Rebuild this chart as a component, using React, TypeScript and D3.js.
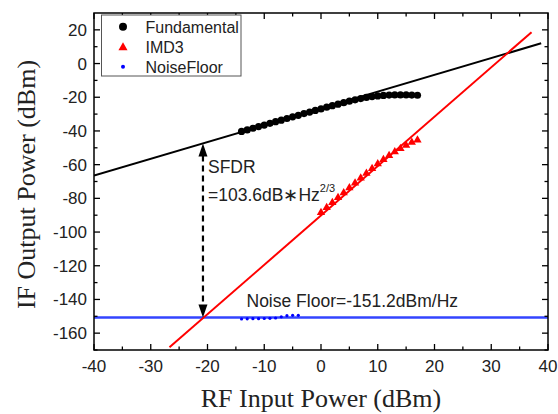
import React from "react";
import * as d3 from "d3";

const W = 558;
const H = 414;
const M = { left: 94, right: 548, top: 13, bottom: 350 };

const xTicksMajor = [-40, -30, -20, -10, 0, 10, 20, 30, 40];
const xTicksMinor = [-35, -25, -15, -5, 5, 15, 25, 35];
const yTicksMajor = [20, 0, -20, -40, -60, -80, -100, -120, -140, -160];
const yTicksMinor = [10, -10, -30, -50, -70, -90, -110, -130, -150, -170];

const fundX = [-14, -13, -12, -11, -10, -9, -8, -7, -6, -5, -4, -3, -2, -1, 0, 1, 2, 3, 4, 5, 6, 7, 8, 9, 10, 11, 12, 13, 14, 15, 16, 17];
const fundY = [-40.3, -39.4, -38.4, -37.4, -36.5, -35.5, -34.5, -33.6, -32.6, -31.6, -30.7, -29.7, -28.8, -27.8, -26.9, -25.9, -25.0, -24.1, -23.2, -22.3, -21.5, -20.8, -20.1, -19.6, -19.2, -18.9, -18.7, -18.6, -18.6, -18.6, -18.7, -18.8];

const imdX = [0, 1, 2, 3, 4, 5, 6, 7, 8, 9, 10, 11, 12, 13, 14, 15, 16, 17];
const imdY = [-88.5, -85.5, -82.5, -79.6, -76.7, -73.8, -70.9, -68.0, -65.1, -62.3, -59.5, -57.0, -54.6, -52.4, -50.4, -48.5, -46.8, -45.4];

const noiseX = [-14, -13, -12, -11, -10, -9, -8, -7, -6, -5, -4];
const noiseY = [-151.6, -151.5, -151.4, -151.4, -151.3, -151.2, -151.0, -150.3, -149.6, -149.4, -149.4];

const fundFitX = [-40, 38.8];
const fundFitY = [-66.5, 12.0];
const imdFitX = [-26.7, 37.1];
const imdFitY = [-168.4, 18.6];
const noiseFloorLevel = -150.7;
const sfdrX = -20.8;
const sfdrTop = -47.5;

const legendLabels = ["Fundamental", "IMD3", "NoiseFloor"];

export default function App() {
  const x = d3.scaleLinear().domain([-40, 40]).range([M.left, M.right]);
  const y = d3.scaleLinear().domain([-170, 30]).range([M.bottom, M.top]);
  const line = d3
    .line<[number, number]>()
    .x((d) => x(d[0]))
    .y((d) => y(d[1]));
  const tri = d3.symbol().type(d3.symbolTriangle).size(30)() as string;
  const triLeg = d3.symbol().type(d3.symbolTriangle).size(36)() as string;
  const sans = "'Liberation Sans', Arial, sans-serif";
  const serif = "'Liberation Serif', 'Times New Roman', serif";

  const fundFit: [number, number][] = fundFitX.map((v, i) => [v, fundFitY[i]]);
  const imdFit: [number, number][] = imdFitX.map((v, i) => [v, imdFitY[i]]);

  const ay1 = y(sfdrTop);
  const ay2 = y(noiseFloorLevel);
  const ax = x(sfdrX);

  return (
    <svg
      width={W}
      height={H}
      style={{ position: "absolute", left: 0, top: 0, background: "#fff" }}
    >
      <defs>
        <clipPath id="plot">
          <rect x={M.left} y={M.top} width={M.right - M.left} height={M.bottom - M.top} />
        </clipPath>
      </defs>
      <rect width={W} height={H} fill="#fff" />

      <g clipPath="url(#plot)">
        {/* noise floor line */}
        <line
          x1={M.left}
          x2={M.right}
          y1={y(noiseFloorLevel)}
          y2={y(noiseFloorLevel)}
          stroke="#3344ff"
          strokeWidth={2.6}
        />
        <path d={line(fundFit) || ""} stroke="#000" strokeWidth={2} fill="none" />
        <path d={line(imdFit) || ""} stroke="#ff0000" strokeWidth={2} fill="none" />

        {fundX.map((v, i) => (
          <circle key={"f" + i} cx={x(v)} cy={y(fundY[i])} r={3.6} fill="#000" />
        ))}
        {imdX.map((v, i) => (
          <path
            key={"m" + i}
            d={tri}
            transform={`translate(${x(v)},${y(imdY[i])})`}
            fill="#ff0000"
          />
        ))}
        {noiseX.map((v, i) => (
          <circle key={"n" + i} cx={x(v)} cy={y(noiseY[i])} r={1.6} fill="#0000ff" />
        ))}
      </g>

      {/* SFDR arrow */}
      <line
        x1={ax}
        x2={ax}
        y1={ay1 + 12}
        y2={ay2 - 12}
        stroke="#000"
        strokeWidth={2.2}
        strokeDasharray="6,4"
      />
      <path d={`M${ax},${ay1} L${ax - 4.5},${ay1 + 13} L${ax + 4.5},${ay1 + 13} Z`} fill="#000" />
      <path d={`M${ax},${ay2} L${ax - 4.5},${ay2 - 13} L${ax + 4.5},${ay2 - 13} Z`} fill="#000" />

      <text x={208} y={172.5} fontFamily={sans} fontSize={17.5} fill="#222">
        SFDR
      </text>
      <text x={208} y={200.5} fontFamily={sans} fontSize={17.5} fill="#222">
        =103.6dB∗Hz
        <tspan dy={-9} fontSize={11}>
          2/3
        </tspan>
      </text>
      <text x={246.5} y={306.5} fontFamily={sans} fontSize={17.5} fill="#222">
        Noise Floor=-151.2dBm/Hz
      </text>

      {/* frame */}
      <rect
        x={M.left}
        y={M.top}
        width={M.right - M.left}
        height={M.bottom - M.top}
        fill="none"
        stroke="#000"
        strokeWidth={1.5}
      />

      {/* x ticks */}
      {xTicksMajor.map((t) => (
        <g key={"xt" + t}>
          <line x1={x(t)} x2={x(t)} y1={M.bottom} y2={M.bottom - 6} stroke="#000" strokeWidth={1.3} />
          <line x1={x(t)} x2={x(t)} y1={M.top} y2={M.top + 6} stroke="#000" strokeWidth={1.3} />
          <text
            x={x(t)}
            y={372}
            textAnchor="middle"
            fontFamily={sans}
            fontSize={17}
            fill="#222"
          >
            {t}
          </text>
        </g>
      ))}
      {xTicksMinor.map((t) => (
        <g key={"xm" + t}>
          <line x1={x(t)} x2={x(t)} y1={M.bottom} y2={M.bottom - 3.5} stroke="#000" strokeWidth={1.3} />
          <line x1={x(t)} x2={x(t)} y1={M.top} y2={M.top + 3.5} stroke="#000" strokeWidth={1.3} />
        </g>
      ))}

      {/* y ticks */}
      {yTicksMajor.map((t) => (
        <g key={"yt" + t}>
          <line x1={M.left} x2={M.left + 6} y1={y(t)} y2={y(t)} stroke="#000" strokeWidth={1.3} />
          <line x1={M.right} x2={M.right - 6} y1={y(t)} y2={y(t)} stroke="#000" strokeWidth={1.3} />
          <text
            x={87}
            y={y(t) + 6}
            textAnchor="end"
            fontFamily={sans}
            fontSize={17}
            fill="#222"
          >
            {t}
          </text>
        </g>
      ))}
      {yTicksMinor.map((t) => (
        <g key={"ym" + t}>
          <line x1={M.left} x2={M.left + 3.5} y1={y(t)} y2={y(t)} stroke="#000" strokeWidth={1.3} />
          <line x1={M.right} x2={M.right - 3.5} y1={y(t)} y2={y(t)} stroke="#000" strokeWidth={1.3} />
        </g>
      ))}

      {/* axis titles */}
      <text
        x={(M.left + M.right) / 2}
        y={407}
        textAnchor="middle"
        fontFamily={serif}
        fontSize={26}
        fill="#222"
      >
        RF Input Power (dBm)
      </text>
      <text
        transform={`translate(35,${(M.top + M.bottom) / 2 + 3}) rotate(-90)`}
        textAnchor="middle"
        fontFamily={serif}
        fontSize={26}
        fill="#222"
      >
        IF Output Power (dBm)
      </text>

      {/* legend */}
      <rect x={101.5} y={15} width={139.5} height={61} fill="#fff" stroke="#555" strokeWidth={1} />
      <circle cx={123} cy={26.7} r={4} fill="#000" />
      <path d={triLeg} transform="translate(123,47.5)" fill="#ff0000" />
      <circle cx={123} cy={66.7} r={2} fill="#0000ff" />
      {legendLabels.map((l, i) => (
        <text
          key={l}
          x={145.5}
          y={32.5 + i * 20}
          fontFamily={sans}
          fontSize={16}
          fill="#222"
        >
          {l}
        </text>
      ))}
    </svg>
  );
}
